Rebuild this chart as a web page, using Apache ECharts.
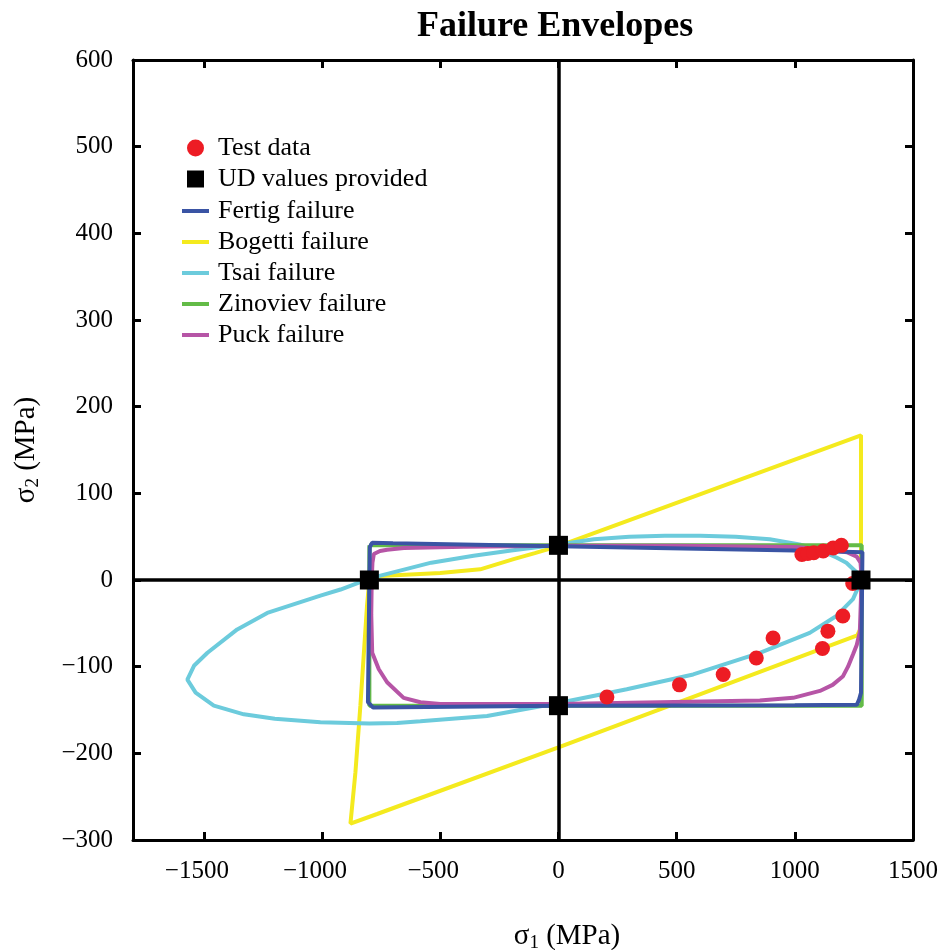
<!DOCTYPE html>
<html>
<head>
<meta charset="utf-8">
<script src="https://cdn.jsdelivr.net/npm/echarts@6/dist/echarts.min.js"></script>
<style>html,body{margin:0;padding:0;background:#fff}#c{width:943px;height:950px}</style>
</head>
<body>
<div id="c"></div>
<script>
// ---- data ----
var xTicks = [-1500, -1000, -500, 0, 500, 1000, 1500];
var yTicks = [-300, -200, -100, 0, 100, 200, 300, 400, 500, 600];
var testData = [[205,-135],[512,-121],[697,-109],[837,-90],[908,-67],[1117,-79],[1140,-59],[1203,-41.5],[1245,-4],[1030,29.5],[1055,30.5],[1080,31.5],[1120,33.5],[1162,37],[1197,40]];
var udValues = [[1280,0],[-800,0],[0,40],[0,-145]];
var fertig = [[-800,0],[-798,38],[-788,43],[-700,42.5],[0,39],[1000,34],[1286,32],[1280,-130],[1272,-138],[1262,-144],[1000,-144.5],[0,-145],[-785,-147],[-806,-141],[-800,0]];
var bogetti = [[-800,0],[-753,4.6],[-500,8],[-331,12.3],[-190,24],[-100,31],[0,39],[1280,167],[1280,-55],[1264,-64],[0,-193],[-767,-270],[-880,-281],[-859,-222],[-838,-145],[-810,-30],[-800,0]];
var tsai = [[1282,0],[1261,9],[1218,20],[1176,26],[1100,35],[1020,41],[894,47],[750,50],[600,51],[450,51],[300,50],[150,47],[0,41],[-200,34],[-359,28],[-538,20],[-753,5],[-806,1],[-922,-11],[-1007,-18],[-1232,-38],[-1359,-57],[-1485,-84],[-1542,-99],[-1570,-115],[-1535,-130],[-1458,-145],[-1331,-155],[-1200,-160],[-1007,-164],[-800,-165.5],[-683,-165],[-584,-163],[-302,-157],[0,-142],[289,-126],[570,-109],[852,-84],[1063,-61],[1176,-41.5],[1246,-22],[1282,0]];
var zinoviev = [[-800,40],[1283,40],[1283,-145],[-800,-145],[-800,40]];
var puck = [[-790,0],[-787,20],[-781,30],[-755,33.5],[-725,35],[-654,37],[-400,38.5],[0,39.5],[500,39.5],[1000,38],[1150,35],[1220,32],[1262,27],[1278,20],[1282,5],[1280,-20],[1275,-60],[1262,-75],[1246,-86],[1225,-100],[1204,-111],[1160,-121],[1106,-128],[993,-136],[852,-139],[430,-141],[0,-143],[-500,-143],[-584,-141],[-655,-136],[-725,-118],[-760,-103],[-788,-84],[-792,-40],[-790,0]];

var FONT = '"Liberation Serif","Times New Roman",serif';
function fmtY(v){ return v < 0 ? '\u2212' + Math.abs(v) : String(v); }
function fmtX(v){ return v < 0 ? '{m|\u2212}{d|' + Math.abs(v) + '}{h|\u2212}' : '{d|' + v + '}'; }

var chart = echarts.init(document.getElementById('c'), null, {renderer:'canvas'});
var axisLineStyle = {color:'#000', width:3};
function lineSeries(name, data, color){
  return {name:name, type:'line', data:data, symbol:'none', smooth:false,
    lineStyle:{color:color, width:4}, itemStyle:{color:color}, z:3, silent:true};
}
var legendText = {fontFamily:FONT, fontSize:26, color:'#000', lineHeight:26, padding:[0,0,0,4]};
var option = {
  backgroundColor:'#fff',
  animation:false,
  title:{text:'Failure Envelopes', left:412, top:4,
    textStyle:{fontFamily:FONT, fontWeight:'bold', fontSize:36, color:'#000'}},
  grid:{left:133, right:30, top:60, bottom:110, show:false, containLabel:false, outerBoundsMode:'none'},
  legend:[
    {orient:'vertical', left:182, top:130, itemGap:5, itemWidth:27, itemHeight:17, selectedMode:false,
      data:[{name:'Test data', icon:'circle'}, {name:'UD values provided', icon:'path://M0,0L10,0L10,10L0,10Z'}],
      textStyle:legendText},
    {orient:'vertical', left:177, top:193, itemGap:5, itemWidth:27, itemHeight:4, selectedMode:false,
      data:[{name:'Fertig failure', icon:'rect'},{name:'Bogetti failure', icon:'rect'},{name:'Tsai failure', icon:'rect'},{name:'Zinoviev failure', icon:'rect'},{name:'Puck failure', icon:'rect'}],
      textStyle:legendText}
  ],
  xAxis:[{type:'value', min:-1800, max:1500, position:'bottom',
      axisLine:{show:true, onZero:false, lineStyle:axisLineStyle},
      axisTick:{show:true, inside:true, length:8, lineStyle:{width:3,color:'#000'}, customValues:xTicks},
      axisLabel:{show:true, customValues:xTicks, formatter:fmtX, fontFamily:FONT, fontSize:25, color:'#000', margin:19,
        rich:{m:{fontFamily:FONT, fontSize:25, color:'#000'}, d:{fontFamily:FONT, fontSize:25, color:'#000'}, h:{fontFamily:FONT, fontSize:25, color:'rgba(0,0,0,0)'}}},
      splitLine:{show:false},
      name:'{a|\u03c3}{b|1}{a| (MPa)}', nameLocation:'middle', nameGap:80,
      nameTextStyle:{padding:[0,0,0,88], rich:{a:{fontFamily:FONT, fontSize:29, color:'#000'}, b:{fontFamily:FONT, fontSize:19, color:'#000', padding:[14,0,0,0]}}}},
    {type:'value', min:-1800, max:1500, position:'top',
      axisLine:{show:true, onZero:false, lineStyle:axisLineStyle},
      axisTick:{show:true, inside:true, length:8, lineStyle:{width:3,color:'#000'}, customValues:xTicks},
      axisLabel:{show:false}, splitLine:{show:false}}],
  yAxis:[{type:'value', min:-300, max:600, interval:100, position:'left',
      axisLine:{show:true, onZero:false, lineStyle:axisLineStyle},
      axisTick:{show:true, inside:true, length:8, lineStyle:{width:3,color:'#000'}},
      axisLabel:{formatter:fmtY, fontFamily:FONT, fontSize:25, color:'#000', margin:20},
      splitLine:{show:false},
      name:'{a|\u03c3}{b|2}{a| (MPa)}', nameLocation:'middle', nameGap:90, nameRotate:90,
      nameTextStyle:{rich:{a:{fontFamily:FONT, fontSize:29, color:'#000'}, b:{fontFamily:FONT, fontSize:19, color:'#000', padding:[14,0,0,0]}}}},
    {type:'value', min:-300, max:600, interval:100, position:'right',
      axisLine:{show:true, onZero:false, lineStyle:axisLineStyle},
      axisTick:{show:true, inside:true, length:8, lineStyle:{width:3,color:'#000'}},
      axisLabel:{show:false}, splitLine:{show:false}}],
  series:[
    {name:'zero', type:'line', data:[], z:2, silent:true,
      markLine:{silent:true, symbol:'none', label:{show:false}, lineStyle:{color:'#000', width:3.5, type:'solid'},
        data:[{xAxis:0},{yAxis:0}]}},
    lineSeries('Bogetti failure', bogetti, '#f4ea1e'),
    lineSeries('Tsai failure', tsai, '#6ccbdc'),
    lineSeries('Zinoviev failure', zinoviev, '#63bb47'),
    lineSeries('Puck failure', puck, '#b655a6'),
    lineSeries('Fertig failure', fertig, '#3a54a4'),
    {name:'Test data', type:'scatter', data:testData, symbol:'circle', symbolSize:15,
      itemStyle:{color:'#ed1c24', opacity:1}, z:4, silent:true},
    {name:'UD values provided', type:'scatter', data:udValues, symbol:'rect', symbolSize:19,
      itemStyle:{color:'#000', opacity:1}, z:5, silent:true}
  ]
};
chart.setOption(option);
</script>
</body>
</html>
